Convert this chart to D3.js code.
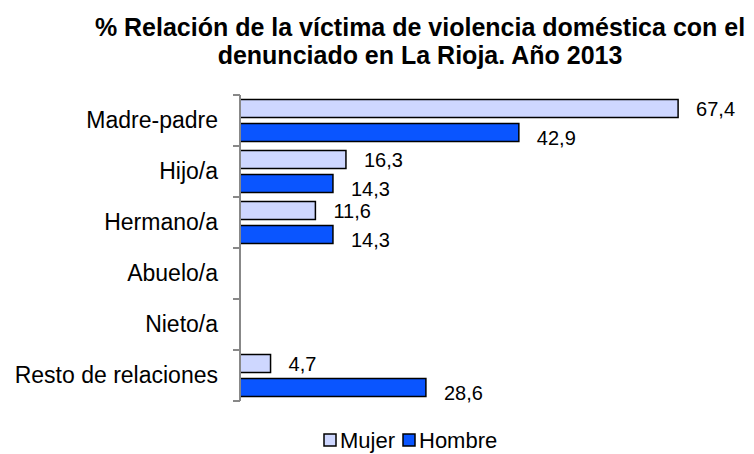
<!DOCTYPE html>
<html><head><meta charset="utf-8">
<script src="https://cdn.jsdelivr.net/npm/d3@7"></script>
<style>body{margin:0;background:#fff}svg{display:block}text{font-family:"Liberation Sans",Arial,Helvetica,sans-serif}</style>
</head><body>
<svg id="c" width="754" height="454"></svg>
<script>
const categories = ["Madre-padre","Hijo/a","Hermano/a","Abuelo/a","Nieto/a","Resto de relaciones"];
const series = ["Mujer","Hombre"];
const mujer = [67.4, 16.3, 11.6, 0, 0, 4.7];
const hombre = [42.9, 14.3, 14.3, 0, 0, 28.6];
const titleLines = ["% Relación de la víctima de violencia doméstica con el","denunciado en La Rioja. Año 2013"];
const colors = {Mujer:"#ced7ff", Hombre:"#0a55ff"};

const svg = d3.select("#c");
const x = d3.scaleLinear().domain([0,70]).range([240,695]);
const y = d3.scaleBand().domain(categories).range([95,401]);
const y1 = d3.scaleBand().domain(series).range([0,y.bandwidth()]).paddingInner(0.25).paddingOuter(0.1875);
const fmt = v => d3.format(".1f")(v).replace(".",",");

// title
svg.append("g").selectAll("text").data(titleLines).join("text")
  .attr("x",420).attr("y",(d,i)=>36+i*28).attr("text-anchor","middle")
  .attr("font-size",25).attr("font-weight","bold").text(d=>d);

const rows = categories.map((c,i)=>({c, vals:[{s:"Mujer",v:mujer[i]},{s:"Hombre",v:hombre[i]}]}));
const g = svg.append("g");
const rg = g.selectAll("g.r").data(rows).join("g").attr("transform",d=>`translate(0,${y(d.c)})`);
rg.selectAll("rect").data(d=>d.vals.filter(e=>e.v>0)).join("rect")
  .attr("x",x(0)).attr("y",d=>y1(d.s)).attr("width",d=>x(d.v)-x(0)).attr("height",y1.bandwidth())
  .attr("fill",d=>colors[d.s]).attr("stroke","#000").attr("stroke-width",1.5);
rg.selectAll("text").data(d=>d.vals.filter(e=>e.v>0)).join("text")
  .attr("x",d=>x(d.v)+18).attr("y",d=>y1(d.s)+y1.bandwidth()/2+(d.s==="Hombre"?5:0))
  .attr("dy","0.35em").attr("font-size",20).text(d=>fmt(d.v));

// axis
const ax = svg.append("g").attr("transform",`translate(${x(0)},0)`)
  .call(d3.axisLeft(y).tickSize(0).tickPadding(22));
ax.select(".domain").remove();
ax.selectAll("text").attr("font-size",23).attr("fill","#000");
const bounds = categories.map(c=>y(c)).concat([y.range()[1]]);
svg.append("g").selectAll("line").data(bounds).join("line")
  .attr("x1",x(0)-7).attr("x2",x(0)).attr("y1",d=>d).attr("y2",d=>d)
  .attr("stroke","#888").attr("stroke-width",2);
svg.append("line").attr("x1",x(0)).attr("x2",x(0)).attr("y1",y.range()[0]).attr("y2",y.range()[1])
  .attr("stroke","#888").attr("stroke-width",2);

// legend
const lg = svg.append("g");
const lx = [324, 403];
series.forEach((s,i)=>{
  lg.append("rect").attr("x",lx[i]).attr("y",434).attr("width",12).attr("height",12)
    .attr("fill",colors[s]).attr("stroke","#000").attr("stroke-width",1.5);
  lg.append("text").attr("x",lx[i]+16).attr("y",440).attr("dy","0.35em").attr("font-size",22).text(s);
});
</script>
</body></html>
